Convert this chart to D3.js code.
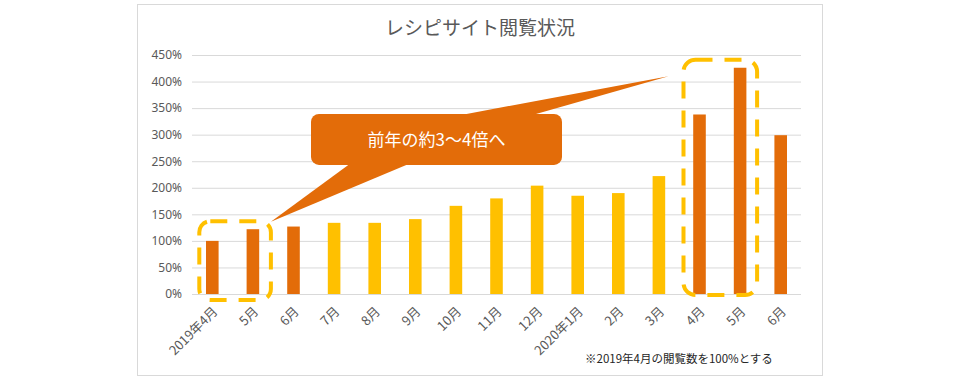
<!DOCTYPE html>
<html><head><meta charset="utf-8">
<script src="https://cdn.jsdelivr.net/npm/d3@7"></script>
<style>
html,body{margin:0;padding:0;background:#fff;}
svg{display:block;font-family:"Noto Sans CJK JP","Noto Sans",sans-serif;}
</style></head>
<body><svg id="c" width="960" height="380"></svg>
<script>
const categories = ["2019年4月","5月","6月","7月","8月","9月","10月","11月","12月","2020年1月","2月","3月","4月","5月","6月"];
const values = [100,122,127,134,134,141,166,180,204,185,190,222,338,426,299];
const yTicks = [0,50,100,150,200,250,300,350,400,450];
const title = "レシピサイト閲覧状況";
const calloutText = "前年の約3～4倍へ";
const footnote = "※2019年4月の閲覧数を100%とする";

const ORANGE = "#E36C09", YELLOW = "#FFC000", GRID = "#D9D9D9", TEXT = "#595959";
const svg = d3.select("#c");

// chart frame
svg.append("rect").attr("x",137.5).attr("y",4.5).attr("width",685).attr("height",371)
  .attr("fill","#fff").attr("stroke",GRID).attr("stroke-width",1);

const x = d3.scaleBand().domain(categories.map((d,i)=>i)).range([192,801])
  .paddingInner(0.69).paddingOuter(0.345);
const y = d3.scaleLinear().domain([0,450]).range([294,55]);

svg.append("text").attr("x",480).attr("y",35).attr("text-anchor","middle")
  .attr("font-size",19).attr("fill",TEXT).text(title);

// gridlines & y axis labels
const yAxis = d3.axisLeft(y).tickValues(yTicks).tickSize(-(801-192)).tickFormat(d=>d+"%").tickPadding(10);
const gy = svg.append("g").attr("transform","translate(192,0)").call(yAxis);
gy.select(".domain").remove();
gy.selectAll(".tick line").attr("stroke",GRID).attr("stroke-width",1);
gy.selectAll(".tick text").attr("fill",TEXT).attr("font-size",12).attr("font-family","'Noto Sans','Noto Sans CJK JP',sans-serif");

// bars
const cx = i => x(i)+x.bandwidth()/2;
svg.append("g").selectAll("rect").data(values).join("rect")
  .attr("x",(d,i)=>x(i)).attr("width",x.bandwidth())
  .attr("y",d=>y(d)).attr("height",d=>y(0)-y(d))
  .attr("fill",(d,i)=> (i<3||i>=12)?ORANGE:YELLOW);

// x labels
svg.append("g").selectAll("text").data(categories).join("text")
  .attr("transform",(d,i)=>`translate(${cx(i)+3},${y(0)+15}) rotate(-45)`)
  .attr("text-anchor","end").attr("dy","0.35em")
  .attr("font-size",13).attr("fill",TEXT).text(d=>d);

// dashed highlight boxes
function dashBox(x0,y0,x1,y1,r){
  svg.append("rect").attr("x",x0).attr("y",y0).attr("width",x1-x0).attr("height",y1-y0)
    .attr("rx",r).attr("ry",r).attr("fill","none").attr("stroke",YELLOW)
    .attr("stroke-width",4).attr("stroke-dasharray","17,12");
}
dashBox(cx(0)-13, y(137), cx(1)+18, y(0)+6, 11);
dashBox(cx(12)-16, y(441), cx(13)+17, y(0)+1, 12);

// callout
const bx0=311, bx1=562, by0=y(339), by1=y(243);
const g = svg.append("g").attr("fill",ORANGE);
g.append("path").attr("d",`M${bx0+40},${by1-2} L${cx(1)+18},${y(136)} L${bx0+100},${by1-2} Z`);
g.append("path").attr("d",`M${bx0+145},${by0+2} L${cx(12)-31},${y(410)} L${bx0+218},${by0+2} Z`);
g.append("rect").attr("x",bx0).attr("y",by0).attr("width",bx1-bx0).attr("height",by1-by0).attr("rx",8);
svg.append("text").attr("x",(bx0+bx1)/2).attr("y",(by0+by1)/2).attr("dy","0.36em")
  .attr("text-anchor","middle").attr("font-size",17).attr("fill","#fff").text(calloutText);

svg.append("text").attr("x",585).attr("y",363).attr("font-size",11.5).attr("fill","#262626").text(footnote);
</script></body></html>
